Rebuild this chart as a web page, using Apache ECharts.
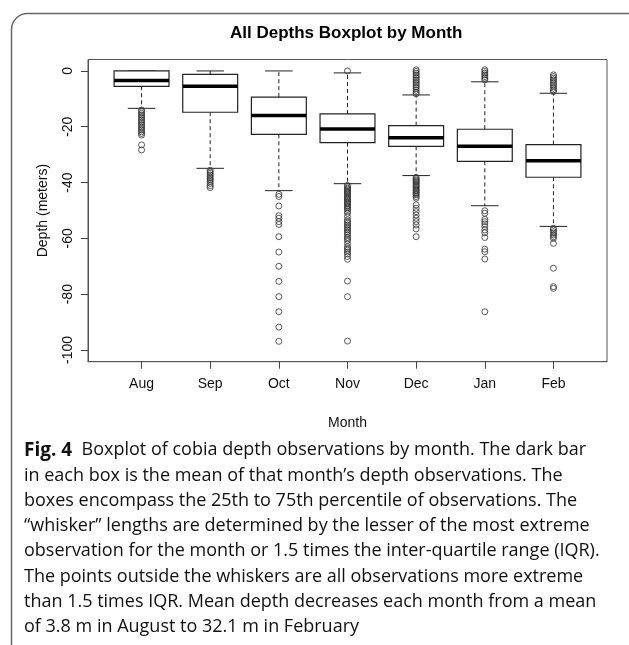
<!DOCTYPE html>
<html>
<head>
<meta charset="utf-8">
<script src="https://cdn.jsdelivr.net/npm/echarts@6/dist/echarts.min.js"></script>
<style>
html,body{margin:0;padding:0;background:#fff;}
#c{width:629px;height:645px;}
</style>
</head>
<body>
<div id="c"></div>
<script>
// ---- data ----
const months = ['Aug', 'Sep', 'Oct', 'Nov', 'Dec', 'Jan', 'Feb'];
const yTicks = [0, -20, -40, -60, -80, -100];
const whiskerLow  = [-13.4, -34.9, -42.9, -40.4, -37.5, -48.3, -55.7];
const boxLow      = [-5.5, -14.8, -22.7, -25.7, -27.0, -32.4, -38.1];
const medians     = [-3.4, -5.5, -16.0, -20.8, -23.9, -27.0, -32.2];
const boxHigh     = [0.0, -1.2, -9.4, -15.4, -19.6, -20.9, -26.4];
const whiskerHigh = [0.0, 0.0, 0.0, -0.7, -8.6, -3.9, -8.0];

const outAug = [-14.0, -14.6, -15.2, -15.8, -16.4, -17.0, -17.6, -18.2, -18.8, -19.4, -20.0, -20.6, -21.2, -21.8, -22.4, -23.0, -26.5, -28.3];
const outSep = [-35.6, -36.2, -36.7, -37.3, -37.9, -38.5, -39.0, -39.6, -40.3, -41.1, -41.8];
const outOct = [-44.2, -45.0, -48.4, -51.9, -52.8, -54.0, -55.0, -59.4, -64.9, -70.0, -75.4, -80.9, -86.3, -91.8, -96.9];
const outNov = [0.0, -41.0, -41.5, -42.0, -42.4, -42.9, -43.3, -43.7, -44.1, -44.6, -45.1, -45.5, -45.9, -46.4, -46.9, -47.3, -47.7, -48.2, -48.6, -49.1, -49.6, -50.3, -51.0, -52.2, -53.4, -54.0, -54.6, -55.2, -55.8, -56.4, -57.0, -57.6, -58.2, -58.9, -59.6, -60.2, -60.8, -61.9, -63.0, -63.6, -64.2, -64.9, -65.6, -66.5, -67.5, -75.3, -80.9, -96.8];
const outDec = [0.4, -0.2, -0.8, -1.4, -2.0, -2.6, -3.2, -3.8, -4.4, -5.0, -5.6, -6.2, -6.9, -7.6, -8.2, -38.1, -38.6, -39.1, -39.5, -39.9, -40.4, -40.9, -41.3, -41.7, -42.2, -42.7, -43.1, -43.6, -44.0, -44.4, -45.0, -45.6, -48.0, -49.2, -50.4, -51.6, -52.8, -54.0, -55.2, -56.6, -59.4];
const outJan = [0.4, -0.2, -0.8, -1.4, -2.0, -2.6, -3.2, -50.1, -51.0, -53.2, -54.0, -54.8, -55.8, -57.0, -58.0, -59.7, -63.9, -64.8, -67.4, -86.3];
const outFeb = [-1.4, -2.0, -2.6, -3.2, -3.8, -4.4, -5.0, -5.6, -6.2, -6.8, -7.4, -56.4, -57.0, -57.6, -58.2, -58.8, -59.4, -60.0, -61.8, -70.7, -77.3, -77.9];
const outliers = [outAug, outSep, outOct, outNov, outDec, outJan, outFeb];

const captionLines = [
  'Boxplot of cobia depth observations by month. The dark bar',
  'in each box is the mean of that month\u2019s depth observations. The',
  'boxes encompass the 25th to 75th percentile of observations. The',
  '\u201Cwhisker\u201D lengths are determined by the lesser of the most extreme',
  'observation for the month or 1.5 times the inter-quartile range (IQR).',
  'The points outside the whiskers are all observations more extreme',
  'than 1.5 times IQR. Mean depth decreases each month from a mean',
  'of 3.8 m in August to 32.1 m in February'
];

// ---- build ----
const boxData = months.map((m, i) => [i + 1, whiskerLow[i], boxLow[i], medians[i], boxHigh[i], whiskerHigh[i]]);
const outData = [];
outliers.forEach((arr, i) => arr.forEach(v => outData.push([i + 1, v])));

const AX = '#222';
const FONT = '"Liberation Sans", Arial, sans-serif';
const CAP = '"Open Sans", Lato, sans-serif';

function renderBox(params, api) {
  const x = api.value(0);
  const lo = api.coord([x, api.value(1)]);
  const bl = api.coord([x, api.value(2)]);
  const md = api.coord([x, api.value(3)]);
  const bh = api.coord([x, api.value(4)]);
  const hi = api.coord([x, api.value(5)]);
  const bw = api.size([0.8, 0])[0];
  const cw = api.size([0.4, 0])[0];
  const cx = lo[0];
  const dash = {stroke: AX, lineWidth: 1, lineDash: [4, 3], fill: null};
  const solid = {stroke: AX, lineWidth: 1, fill: null};
  return {
    type: 'group',
    children: [
      {type: 'line', shape: {x1: cx, y1: bh[1], x2: cx, y2: hi[1]}, style: dash},
      {type: 'line', shape: {x1: cx, y1: bl[1], x2: cx, y2: lo[1]}, style: dash},
      {type: 'line', shape: {x1: cx - cw / 2, y1: hi[1], x2: cx + cw / 2, y2: hi[1]}, style: solid},
      {type: 'line', shape: {x1: cx - cw / 2, y1: lo[1], x2: cx + cw / 2, y2: lo[1]}, style: solid},
      {type: 'rect', shape: {x: cx - bw / 2, y: bh[1], width: bw, height: bl[1] - bh[1]}, style: {fill: '#fff', stroke: AX, lineWidth: 1.2}},
      {type: 'line', shape: {x1: cx - bw / 2, y1: md[1], x2: cx + bw / 2, y2: md[1]}, style: {stroke: '#000', lineWidth: 3.5}}
    ]
  };
}

const chart = echarts.init(document.getElementById('c'), null, {renderer: 'canvas'});
chart.setOption({
  backgroundColor: '#fff',
  animation: false,
  title: {
    text: 'All Depths Boxplot by Month',
    left: 230, top: 25, padding: 0,
    textStyle: {fontFamily: FONT, fontSize: 17, fontWeight: 'bold', color: '#000'}
  },
  grid: {left: 88, right: 22, top: 59.5, bottom: 283.3, show: true, borderColor: '#555', borderWidth: 1, backgroundColor: 'transparent'},
  xAxis: {
    type: 'value', min: 0.22, max: 7.78,
    splitLine: {show: false},
    axisLine: {show: true, onZero: false, lineStyle: {color: '#555'}},
    axisTick: {show: true, length: 7, customValues: [1, 2, 3, 4, 5, 6, 7], lineStyle: {color: '#444'}},
    axisLabel: {
      customValues: [1, 2, 3, 4, 5, 6, 7],
      formatter: v => months[Math.round(v) - 1],
      margin: 15, fontFamily: FONT, fontSize: 14, color: '#111'
    },
    name: 'Month', nameLocation: 'middle', nameGap: 54,
    nameTextStyle: {fontFamily: FONT, fontSize: 14, color: '#111'}
  },
  yAxis: {
    type: 'value', min: -104.2, max: 4.1,
    splitLine: {show: false},
    axisLine: {show: true, onZero: false, lineStyle: {color: '#555'}},
    axisTick: {show: true, length: 7, customValues: yTicks, lineStyle: {color: '#444'}},
    axisLabel: {
      customValues: yTicks, rotate: 90, margin: 13,
      fontFamily: FONT, fontSize: 14, color: '#111'
    },
    name: 'Depth (meters)', nameLocation: 'middle', nameGap: 38, nameRotate: 90,
    nameTextStyle: {fontFamily: FONT, fontSize: 14, color: '#111'}
  },
  series: [
    {type: 'custom', renderItem: renderBox, data: boxData, z: 2, encode: {x: 0, y: [1, 2, 3, 4, 5]}},
    {type: 'scatter', data: outData, symbol: 'circle', symbolSize: 6, z: 3,
      itemStyle: {color: 'transparent', borderColor: '#333', borderWidth: 1}}
  ],
  graphic: [
    {type: 'rect', left: 9, top: 11, z: -10, silent: true,
      shape: {width: 660, height: 700, r: 16},
      style: {fill: 'none', stroke: '#666', lineWidth: 1.5}},
    {type: 'text', left: 24, top: 437.5, z: 10,
      style: {
        text: '{b|Fig. 4}  ' + captionLines.join('\n'),
        rich: {b: {fontFamily: CAP, fontWeight: 'bold', fontSize: 19, lineHeight: 25.3, fill: '#111'}},
        fontFamily: CAP, fontSize: 18, lineHeight: 25.3, fill: '#111'
      }}
  ]
});
</script>
</body>
</html>
